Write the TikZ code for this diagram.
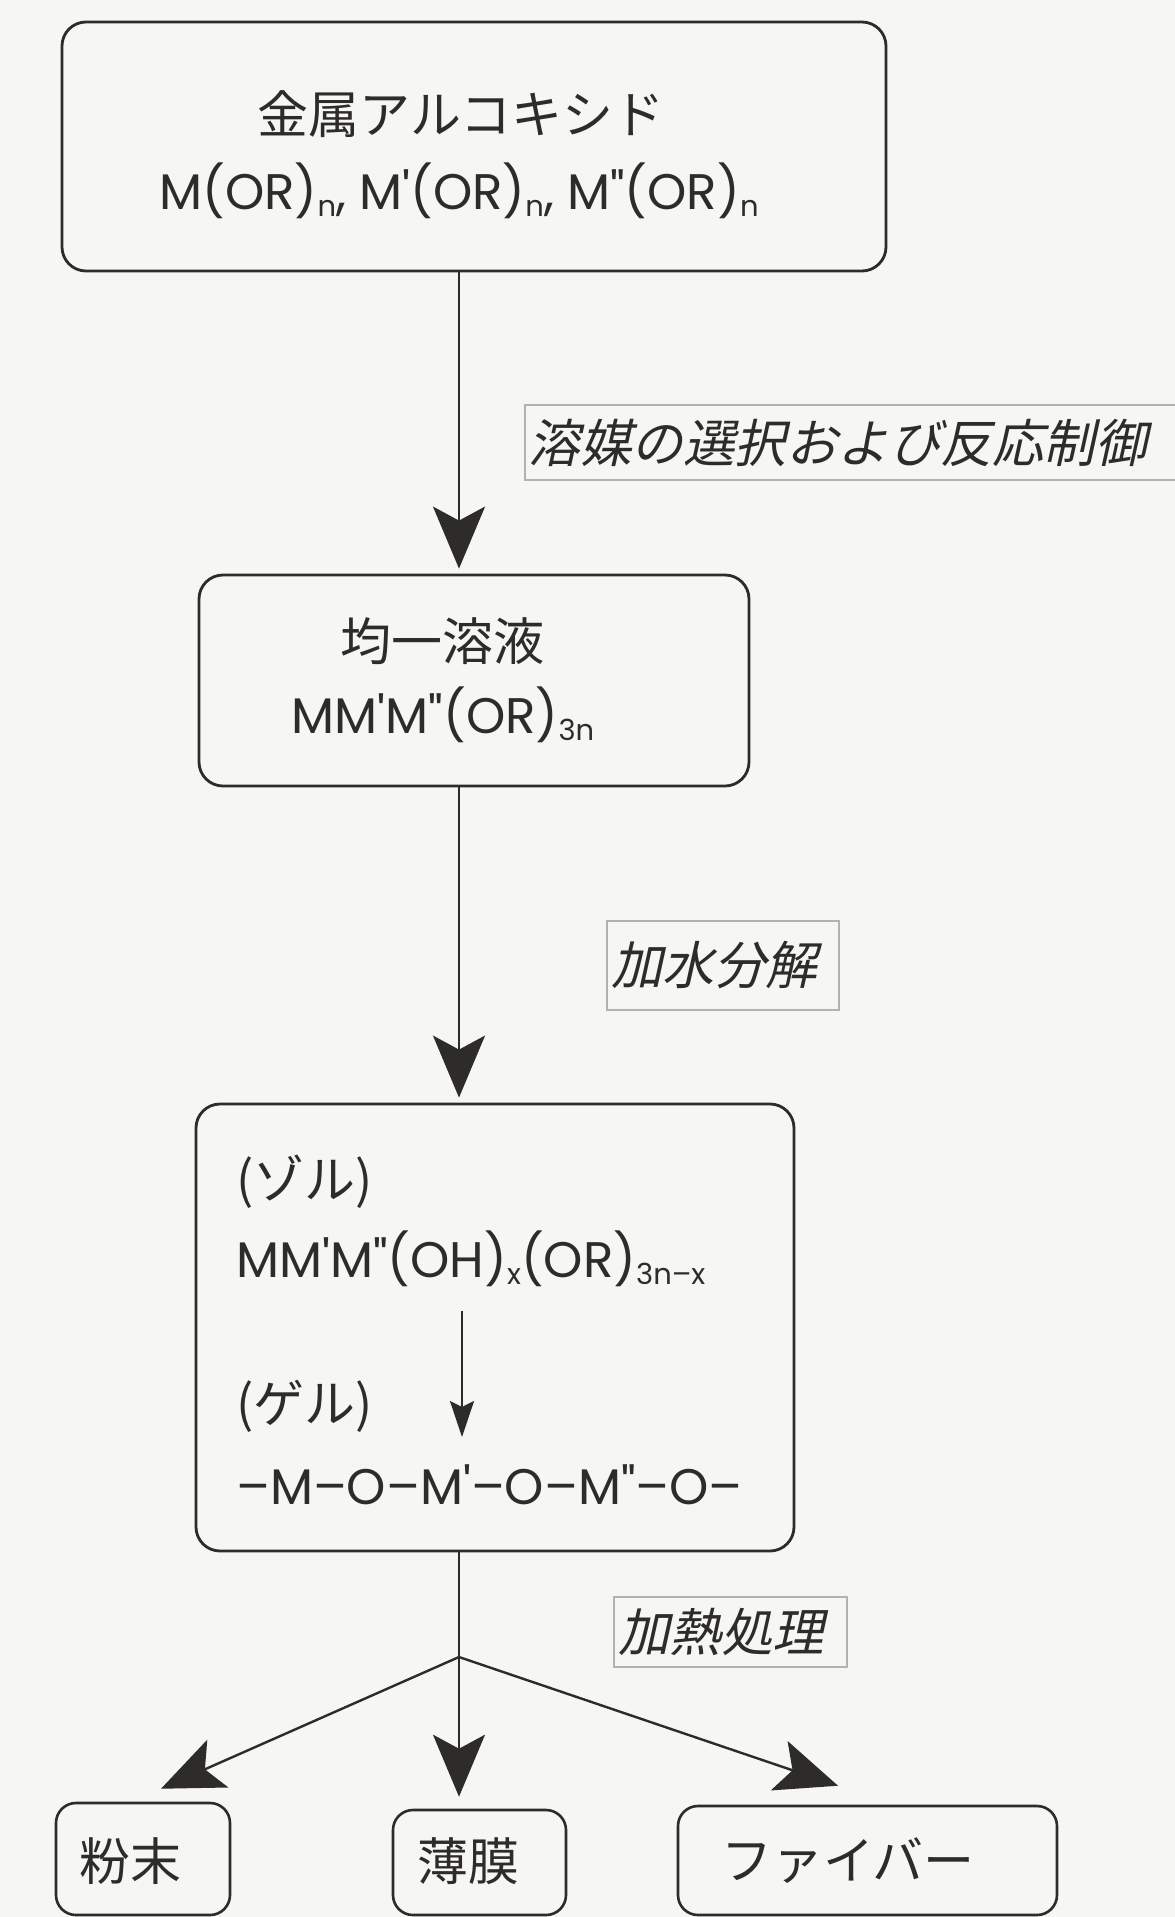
\documentclass[tikz,border=0pt]{standalone}
\usepackage{fontspec}
\usetikzlibrary{arrows.meta,calc}
\newfontfamily\jp{Noto Sans CJK JP}
\newfontfamily\jpsl[FakeSlant=0.22]{Noto Sans CJK JP}
\newfontfamily\lat{Poppins}
\definecolor{ink}{HTML}{2E2B2B}
\definecolor{bg}{HTML}{F6F6F4}
\newcommand\sbs[1]{\raisebox{-7pt}{\fontsize{29}{30}\selectfont #1}}
\newcommand\pr{\textquotesingle}
\begin{document}
\begin{tikzpicture}[x=1pt,y=-1pt,
  box/.style={draw=ink, line width=2.8pt, rounded corners=24pt, inner sep=0pt},
  smallbox/.style={draw=ink, line width=2.6pt, rounded corners=20pt, inner sep=0pt},
  lab/.style={draw=gray!60, line width=1.6pt, inner ysep=0pt, inner xsep=4pt, align=left,
              font=\jpsl\fontsize{51.5}{60}\selectfont, text=ink},
  arr/.style={draw=ink, line width=2.4pt, -{Stealth[length=62pt,width=52pt,inset=14pt]}},
  smallarr/.style={draw=ink, line width=2.2pt, -{Stealth[length=36pt,width=24pt,inset=6pt]}},
  jt/.style={font=\jp\fontsize{51}{60}\selectfont, text=ink, inner sep=0pt},
  lt/.style={font=\lat\fontsize{50}{60}\selectfont, text=ink, inner sep=0pt, anchor=base}]
\useasboundingbox (0,0) rectangle (1175,1917);
\fill[bg] (0,0) rectangle (1175,1917);

% main boxes
\node[box, minimum width=824pt, minimum height=249pt] (b1) at (474,146.5) {};
\node[box, minimum width=550pt, minimum height=211pt] (b2) at (474,680.5) {};
\node[box, minimum width=598pt, minimum height=447pt] (b3) at (495,1327.5) {};

% bottom boxes
\node[smallbox, minimum width=174pt, minimum height=112pt] (powder) at (143,1859) {};
\node[smallbox, minimum width=173pt, minimum height=105pt] (film) at (479.5,1862.5) {};
\node[smallbox, minimum width=379pt, minimum height=109pt] (fiber) at (867.5,1860.5) {};

% texts box 1
\node[jt] (t1a) at (461,114) {金属アルコキシド};
\node[lt] (t1b) at (459,209) {M(OR)\sbs{n}, M\pr(OR)\sbs{n}, M"(OR)\sbs{n}};

% texts box 2
\node[jt] (t2a) at (442,641) {均一溶液};
\node[lt] (t2b) at (443,733) {MM\pr M"(OR)\sbs{3n}};

% texts box 3
\node[jt, anchor=west] (t3a) at (236,1182) {(ゾル)};
\node[lt, anchor=base west] (t3b) at (236,1277) {MM\pr M"(OH)\sbs{x}(OR)\sbs{3n–x}};
\node[jt, anchor=west] (t3c) at (236,1406) {(ゲル)};
\node[lt, anchor=base west] (t3d) at (236,1504) {–M–O–M\pr–O–M"–O–};
\coordinate (ia) at (462,1311);
\coordinate (ib) at (462,1437);
\draw[smallarr] (ia) -- (ib);

% bottom texts
\node[jt] (t4) at (130,1861) {粉末};
\node[jt] (t5) at (468,1861) {薄膜};
\node[jt] (t6) at (848,1861) {ファイバー};

% labels
\node[lab, anchor=west, minimum height=75pt, text width=672pt] (l1) at (524,442.5) {溶媒の選択および反応制御};
\node[lab, minimum height=89pt, text width=224pt] (l2) at (723,965.5) {加水分解};
\node[lab, minimum height=70pt, text width=225pt] (l3) at (730.5,1632) {加熱処理};

% connectors
\coordinate (br) at (459,1657);
\draw[arr, shorten >=5pt] (b1.south -| br) -- (b2.north -| br);
\draw[arr, shorten >=5pt] (b2.south -| br) -- (b3.north -| br);
\draw[draw=ink, line width=2.4pt] (b3.south -| br) -- (br);
\draw[arr] (br) -- ($(powder.north)+(18,-13)$);
\draw[arr, shorten >=12pt] (br) -- (br |- film.north);
\draw[arr] (br) -- ($(fiber.north)+(-29.5,-19)$);
\end{tikzpicture}
\end{document}
